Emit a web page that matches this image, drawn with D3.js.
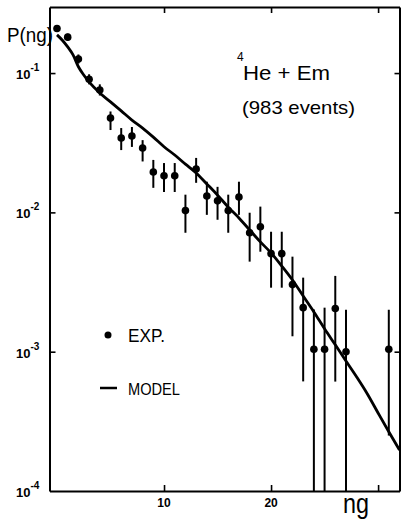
<!DOCTYPE html>
<html>
<head>
<meta charset="utf-8">
<script src="https://cdn.jsdelivr.net/npm/d3@7"></script>
<style>
    body { margin: 0; background: #fff; }
    svg { display: block; font-family: "Liberation Sans", Arial, sans-serif; }
    .axis .domain { stroke: #000; stroke-width: 2; }
    .axis .tick line { stroke: #000; stroke-width: 1.6; }
</style>
</head>
<body>
<div id="chart"></div>
<script>
// experimental points: n_g, P(n_g) and the two ends of the error bar
// (a lower end of 0 means the bar runs down to the axis)
var expN  = [0, 1, 2, 3, 4, 5, 6, 7, 8, 9, 10, 11, 12, 13, 14, 15, 16, 17, 18, 19, 20, 21, 22, 23, 24, 25, 26, 27, 31];
var expP  = [0.209, 0.181, 0.126, 0.0903, 0.0755, 0.0475, 0.0342, 0.0353, 0.029, 0.0195, 0.0183, 0.0183, 0.0103, 0.0205,
             0.0131, 0.0121, 0.0103, 0.0129, 0.00714, 0.00789, 0.00506, 0.00506, 0.00303, 0.00207, 0.00104, 0.00104,
             0.00204, 0.001, 0.00104];
var expLo = [0.198, 0.171, 0.117, 0.083, 0.069, 0.039, 0.028, 0.0295, 0.0232, 0.015, 0.014, 0.014, 0.00714, 0.0163,
             0.0096, 0.00885, 0.00714, 0.0096, 0.00443, 0.00522, 0.00288, 0.00288, 0.00129, 0.000612, 0, 0,
             0.00061, 0, 0.00025];
var expHi = [0.221, 0.192, 0.136, 0.098, 0.083, 0.053, 0.0403, 0.041, 0.033, 0.0238, 0.0226, 0.0226, 0.0134, 0.0246,
             0.0166, 0.01525, 0.0134, 0.0166, 0.00994, 0.011, 0.00726, 0.00726, 0.00481, 0.0034, 0.00201, 0.00207,
             0.0035, 0.002, 0.002];

// model curve
var modelN = [0, 0.5, 1, 1.5, 2, 2.5, 3, 4, 5, 6, 7, 8, 9, 10, 11, 12, 13, 14, 15, 16, 17, 18, 19, 20,
              21, 22, 23, 24, 25, 26, 27, 28, 29, 30, 31, 32];
var modelP = [0.188, 0.172, 0.154, 0.135, 0.111, 0.0969, 0.0863, 0.0719, 0.0621, 0.0535, 0.046, 0.0403, 0.0347,
              0.0296, 0.0258, 0.0222, 0.0192, 0.016, 0.0133, 0.0109, 0.00912, 0.00748, 0.00614, 0.00512,
              0.00412, 0.00327, 0.00251, 0.00193, 0.00146, 0.00112, 0.000857, 0.000658, 0.000497, 0.000363,
              0.000266, 0.000197];

// ticks
var xTicks = [10, 20, 30];
var xTickLabels = ["10", "20", ""];
var yTicks = [1e-1, 1e-2, 1e-3, 1e-4];
var yTickExp = ["-1", "-2", "-3", "-4"];

var svgWidth = 401;
var svgHeight = 531;
// plot frame
var frame = { left: 49.5, right: 399.5, top: 7, bottom: 491 };

var svg = d3.select("#chart")
    .append("svg")
    .attr("width", svgWidth)
    .attr("height", svgHeight);

var xScale = d3.scaleLinear()
    .domain([-0.7, 32.0])
    .range([frame.left, frame.right]);

var yScale = d3.scaleLog()
    .domain([1e-4, 0.298])
    .range([frame.bottom, frame.top]);

// axes, ticks all pointing into the frame
svg.append("g")
    .attr("class", "axis")
    .attr("transform", `translate(0,${frame.bottom})`)
    .call(d3.axisBottom(xScale).tickValues(xTicks).tickSize(-6).tickSizeOuter(0).tickFormat(""));

svg.append("g")
    .attr("class", "axis")
    .attr("transform", `translate(0,${frame.top})`)
    .call(d3.axisTop(xScale).tickValues(xTicks).tickSize(-6).tickSizeOuter(0).tickFormat(""));

svg.append("g")
    .attr("class", "axis")
    .attr("transform", `translate(${frame.left},0)`)
    .call(d3.axisLeft(yScale).tickValues(yTicks.slice(0, 3)).tickSize(-6).tickSizeOuter(0).tickFormat(""));

svg.append("g")
    .attr("class", "axis")
    .attr("transform", `translate(${frame.right},0)`)
    .call(d3.axisRight(yScale).tickValues(yTicks.slice(0, 3)).tickSize(-5).tickSizeOuter(0).tickFormat(""));

// x tick labels
svg.selectAll(".xlab")
    .data(xTicks)
    .enter()
    .append("text")
    .attr("class", "xlab")
    .attr("x", d => xScale(d))
    .attr("y", frame.bottom + 16)
    .attr("text-anchor", "middle")
    .attr("font-size", 12)
    .attr("font-weight", "bold")
    .text((d, i) => xTickLabels[i]);

// y tick labels, 10 with a superscript exponent
var yLab = svg.selectAll(".ylab")
    .data(yTicks)
    .enter()
    .append("text")
    .attr("class", "ylab")
    .attr("x", 16)
    .attr("y", d => yScale(d) + 6)
    .attr("font-size", 13)
    .attr("font-weight", "bold");

yLab.append("tspan").text("10");
yLab.append("tspan")
    .attr("dy", -8)
    .attr("font-size", 10)
    .text((d, i) => yTickExp[i]);

// model line
var line = d3.line()
    .x((d, i) => xScale(modelN[i]))
    .y(d => yScale(d))
    .curve(d3.curveMonotoneX);

svg.append("path")
    .datum(modelP)
    .attr("d", line)
    .attr("fill", "none")
    .attr("stroke", "#000")
    .attr("stroke-width", 2.8);

// error bars
svg.selectAll(".err")
    .data(expP)
    .enter()
    .append("line")
    .attr("class", "err")
    .attr("x1", (d, i) => xScale(expN[i]))
    .attr("x2", (d, i) => xScale(expN[i]))
    .attr("y1", (d, i) => yScale(expHi[i]))
    .attr("y2", (d, i) => yScale(Math.max(expLo[i], 1e-4)))
    .attr("stroke", "#000")
    .attr("stroke-width", 2);

// points
svg.selectAll(".pt")
    .data(expP)
    .enter()
    .append("circle")
    .attr("class", "pt")
    .attr("cx", (d, i) => xScale(expN[i]))
    .attr("cy", d => yScale(d))
    .attr("r", 3.8)
    .attr("fill", "#000");

// axis titles
svg.append("text")
    .attr("x", 7)
    .attr("y", 42)
    .attr("font-size", 20)
    .attr("textLength", 46)
    .attr("lengthAdjust", "spacingAndGlyphs")
    .text("P(ng)");

svg.append("text")
    .attr("x", 343)
    .attr("y", 513)
    .attr("font-size", 28)
    .attr("textLength", 26)
    .attr("lengthAdjust", "spacingAndGlyphs")
    .text("ng");

// reaction label
svg.append("text")
    .attr("x", 237)
    .attr("y", 61)
    .attr("font-size", 12)
    .text("4");

svg.append("text")
    .attr("x", 243)
    .attr("y", 80)
    .attr("font-size", 21)
    .attr("textLength", 87)
    .attr("lengthAdjust", "spacingAndGlyphs")
    .text("He + Em");

svg.append("text")
    .attr("x", 242)
    .attr("y", 114)
    .attr("font-size", 19)
    .attr("textLength", 113)
    .attr("lengthAdjust", "spacingAndGlyphs")
    .text("(983 events)");

// legend
svg.append("circle")
    .attr("cx", 108)
    .attr("cy", 335)
    .attr("r", 3.5)
    .attr("fill", "#000");

svg.append("text")
    .attr("x", 128)
    .attr("y", 342)
    .attr("font-size", 18)
    .attr("textLength", 37)
    .attr("lengthAdjust", "spacingAndGlyphs")
    .text("EXP.");

svg.append("line")
    .attr("x1", 100)
    .attr("x2", 117)
    .attr("y1", 388)
    .attr("y2", 388)
    .attr("stroke", "#000")
    .attr("stroke-width", 2.5);

svg.append("text")
    .attr("x", 128)
    .attr("y", 395)
    .attr("font-size", 16)
    .attr("textLength", 52)
    .attr("lengthAdjust", "spacingAndGlyphs")
    .text("MODEL");
</script>
</body>
</html>
